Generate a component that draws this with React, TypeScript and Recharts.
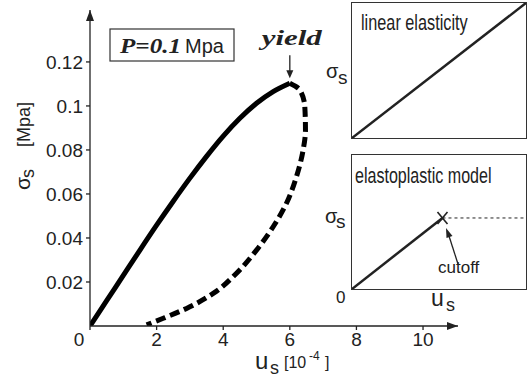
import { ComposedChart, LineChart, Line, XAxis, YAxis, ReferenceDot } from 'recharts';

// loading branch (solid) and unloading branch (dashed), u in 1e-4, stress in MPa
const loadU = [0, 0.5, 1, 1.5, 2, 2.5, 3, 3.5, 4, 4.5, 5, 5.5, 6.0];
const loadS = [0, 0.0115, 0.023, 0.0345, 0.0458, 0.0567, 0.0672, 0.0771, 0.0863, 0.0944, 0.1012, 0.1065, 0.1103];
const unloadU = [6.0, 6.3, 6.45, 6.47, 6.4, 6.2, 5.9, 5.5, 5.0, 4.4, 3.7, 2.9, 2.2, 1.7];
const unloadS = [0.1103, 0.1073, 0.0997, 0.089, 0.08, 0.0679, 0.0558, 0.0451, 0.0345, 0.024, 0.0148, 0.008, 0.0035, 0.0005];

const xTicks = [0, 2, 4, 6, 8, 10];
const yTicks = [0.02, 0.04, 0.06, 0.08, 0.1, 0.12];
const xMax = 11.05;
const yMax = 0.1436;
const yieldU = 6.0;
const yieldS = 0.1103;

// insets (normalised units)
const linU = [0, 1];
const linS = [0, 1];
const elasticU = [0, 0.52];
const elasticS = [0, 0.53];
const plasticU = [0.52, 1];
const plasticS = [0.53, 0.53];

const loadData = loadU.map((u, i) => ({ u, s: loadS[i] }));
const unloadData = unloadU.map((u, i) => ({ u, s: unloadS[i] }));
const linData = linU.map((u, i) => ({ u, s: linS[i] }));
const elasticData = elasticU.map((u, i) => ({ u, s: elasticS[i] }));
const plasticData = plasticU.map((u, i) => ({ u, s: plasticS[i] }));

const INK = '#222';
const SANS = "'Liberation Sans', Arial, sans-serif";
const SERIF = "'Liberation Serif', 'DejaVu Serif', serif";

const XTick = (props: any) => {
  const { x, y, payload } = props;
  const dx = payload.value === 0 ? -11 : 0;
  return (
    <text x={x + dx} y={y + 14} textAnchor="middle" fontSize={19} fontFamily={SANS} fill={INK}>
      {payload.value}
    </text>
  );
};

const UpArrow = (p: any) => (
  <path d={`M${p.cx},${p.cy} L${p.cx - 4},${p.cy + 11} L${p.cx + 4},${p.cy + 11} Z`} fill={INK} />
);
const RightArrow = (p: any) => (
  <path d={`M${p.cx},${p.cy} L${p.cx - 11},${p.cy - 4} L${p.cx - 11},${p.cy + 4} Z`} fill={INK} />
);
const YieldMark = (p: any) => (
  <g>
    <text x={p.cx + 2} y={p.cy - 38} textAnchor="middle" fontSize={22} fontWeight="bold" fontStyle="italic" fontFamily={SERIF} fill={INK} textLength={60} lengthAdjust="spacingAndGlyphs">
      yield
    </text>
    <line x1={p.cx} y1={p.cy - 28} x2={p.cx} y2={p.cy - 8} stroke={INK} strokeWidth={1.3} />
    <path d={`M${p.cx},${p.cy - 5} L${p.cx - 3.5},${p.cy - 13} L${p.cx + 3.5},${p.cy - 13} Z`} fill={INK} />
  </g>
);
const Cross = (p: any) => (
  <g stroke={INK} strokeWidth={1.6}>
    <line x1={p.cx - 5} y1={p.cy - 6} x2={p.cx + 5} y2={p.cy + 6} />
    <line x1={p.cx - 5} y1={p.cy + 6} x2={p.cx + 5} y2={p.cy - 6} />
  </g>
);

function Inset({ left, top, w, h, children }: any) {
  return (
    <div style={{ position: 'absolute', left, top, width: w, height: h, outline: `1.5px solid #333` }}>
      {children}
    </div>
  );
}

export default function App() {
  return (
    <div style={{ position: 'absolute', left: 0, top: 0, width: 528, height: 389, background: '#fff' }}>
      <ComposedChart width={528} height={389} margin={{ top: 10, right: 70, bottom: 33, left: 50 }}>
        <XAxis
          dataKey="u"
          type="number"
          domain={[0, xMax]}
          ticks={xTicks}
          tick={<XTick />}
          tickSize={4}
          height={30}
          axisLine={{ stroke: INK, strokeWidth: 1.3 }}
          tickLine={{ stroke: INK, strokeWidth: 1.3 }}
          allowDataOverflow
        />
        <YAxis
          dataKey="s"
          type="number"
          domain={[0, yMax]}
          ticks={yTicks}
          width={40}
          tickSize={4}
          tickMargin={3}
          tick={{ fontSize: 19, fontFamily: SANS, fill: INK }}
          axisLine={{ stroke: INK, strokeWidth: 1.3 }}
          tickLine={{ stroke: INK, strokeWidth: 1.3 }}
          allowDataOverflow
        />
        <Line data={loadData} dataKey="s" type="monotoneX" stroke="#000" strokeWidth={5} dot={false} isAnimationActive={false} />
        <Line data={unloadData} dataKey="s" type="monotoneY" stroke="#000" strokeWidth={5} strokeDasharray="10 5" dot={false} isAnimationActive={false} />
        <ReferenceDot x={0} y={yMax} r={0} ifOverflow="visible" shape={UpArrow} />
        <ReferenceDot x={xMax} y={0} r={0} ifOverflow="visible" shape={RightArrow} />
        <ReferenceDot x={yieldU} y={yieldS} r={0} ifOverflow="visible" shape={YieldMark} />
      </ComposedChart>

      <Inset left={352} top={3} w={174} h={135}>
        <LineChart width={174} height={135} margin={{ top: 0, right: 0, bottom: 0, left: 0 }}>
          <XAxis dataKey="u" type="number" domain={[0, 1]} hide />
          <YAxis dataKey="s" type="number" domain={[0, 1]} hide />
          <Line data={linData} dataKey="s" type="linear" stroke={INK} strokeWidth={2.5} dot={false} isAnimationActive={false} />
        </LineChart>
      </Inset>

      <Inset left={352} top={155} w={174} h={134}>
        <LineChart width={174} height={134} margin={{ top: 0, right: 0, bottom: 0, left: 0 }}>
          <XAxis dataKey="u" type="number" domain={[0, 1]} hide />
          <YAxis dataKey="s" type="number" domain={[0, 1]} hide />
          <Line data={elasticData} dataKey="s" type="linear" stroke={INK} strokeWidth={2.5} dot={false} isAnimationActive={false} />
          <Line data={plasticData} dataKey="s" type="linear" stroke={INK} strokeWidth={1} strokeDasharray="3 3" dot={false} isAnimationActive={false} />
          <ReferenceDot x={elasticU[1]} y={elasticS[1]} r={0} ifOverflow="visible" shape={Cross} />
        </LineChart>
      </Inset>

      <svg width={528} height={389} style={{ position: 'absolute', left: 0, top: 0, pointerEvents: 'none' }}>
        {/* P box */}
        <rect x={110} y={29} width={124} height={32} fill="#fff" stroke="#333" strokeWidth={1.2} />
        <text x={120} y={53} fontSize={21} fontWeight="bold" fontStyle="italic" fontFamily={SERIF} fill={INK} textLength={61} lengthAdjust="spacingAndGlyphs">
          P=0.1
        </text>
        <text x={185} y={53} fontSize={20} fontFamily={SANS} fill={INK}>Mpa</text>

        {/* y label */}
        <g transform="translate(30,190) rotate(-90)" fontFamily={SANS} fill={INK}>
          <text x={0} y={0} fontSize={21}>σ</text>
          <text x={12} y={4} fontSize={18}>s</text>
          <text x={43} y={0} fontSize={18}>[Mpa]</text>
        </g>

        {/* x label */}
        <g fontFamily={SANS} fill={INK}>
          <text x={255} y={369} fontSize={24}>u</text>
          <text x={270} y={374} fontSize={18}>s</text>
          <text x={284} y={368} fontSize={16}>[10</text>
          <text x={309} y={360} fontSize={12}>-4</text>
          <text x={325} y={368} fontSize={16}>]</text>
        </g>

        {/* inset labels */}
        <g fontFamily={SANS} fill={INK}>
          <text x={326} y={78} fontSize={20}>σ</text>
          <text x={338} y={84} fontSize={19}>s</text>
          <text x={325} y={223} fontSize={20}>σ</text>
          <text x={336} y={228} fontSize={19}>s</text>
          <text x={336} y={303} fontSize={17}>0</text>
          <text x={431} y={306} fontSize={23}>u</text>
          <text x={446} y={311} fontSize={18}>s</text>
          <text x={438} y={273} fontSize={17}>cutoff</text>
        </g>
        <text transform="translate(361,30) scale(0.74,1)" fontSize={22} fontFamily={SANS} fill={INK}>linear elasticity</text>
        <text transform="translate(355,183) scale(0.73,1)" fontSize={22} fontFamily={SANS} fill={INK}>elastoplastic model</text>
        <line x1={458} y1={264} x2={449} y2={236} stroke={INK} strokeWidth={1.3} />
        <path d="M446,228 L446.5,238 L452.5,236 Z" fill={INK} />
      </svg>
    </div>
  );
}
